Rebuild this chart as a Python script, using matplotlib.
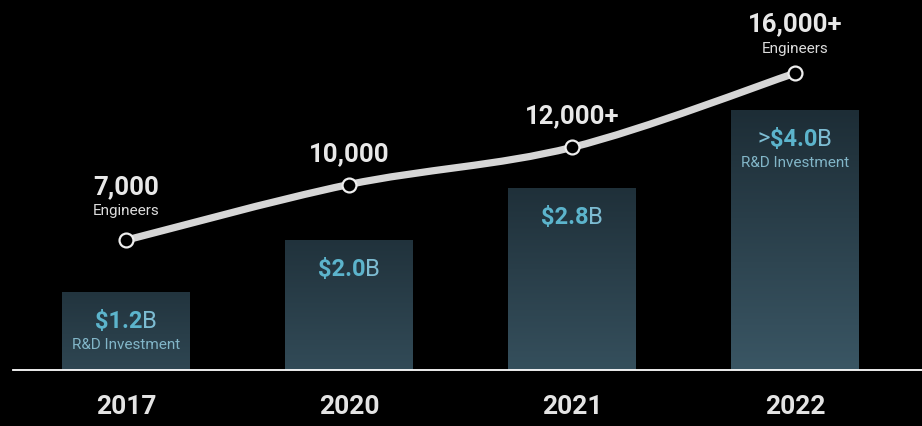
import matplotlib
matplotlib.use("Agg")
import matplotlib.pyplot as plt
import numpy as np
from matplotlib.path import Path
from matplotlib.patches import PathPatch
from matplotlib.colors import LinearSegmentedColormap, to_rgb

plt.rcParams['font.family'] = ['Roboto', 'DejaVu Sans']

years = ["2017", "2020", "2021", "2022"]
rd_spend = [1.2, 2.0, 2.8, 4.0]          # $B
rd_prefix = ["", "", "", ">"]
rd_sub = ["R&D Investment", "", "", "R&D Investment"]
engineers = [7000, 10000, 12000, 16000]
eng_labels = ["7,000", "10,000", "12,000+", "16,000+"]
eng_sub = ["Engineers", "", "", "Engineers"]

fig = plt.figure(figsize=(9.22, 4.27), dpi=100, facecolor="black")
ax = fig.add_axes([13 / 922, 56 / 427, 909 / 922, 371 / 427])
ax.set_facecolor("black")
ax2 = ax.twinx()
for a in (ax, ax2):
    a.set_axis_off()

x = np.arange(len(years))
bar_w = 0.574

# bars with a vertical gradient (dark top -> lighter teal bottom)
bars = ax.bar(x, rd_spend, width=bar_w, color="none", zorder=1)
top_c = np.array(to_rgb("#1d2d36"))
bot_c = np.array(to_rgb("#3a5664"))
hmax = max(rd_spend)
for b, v in zip(bars, rd_spend):
    frac = 0.45 + 0.55 * v / hmax
    bc = top_c + (bot_c - top_c) * frac
    tc = top_c + (bot_c - top_c) * (0.25 * (1 - v / hmax))
    cm = LinearSegmentedColormap.from_list("g", [bc, tc])
    grad = np.linspace(0, 1, 256).reshape(-1, 1)
    im = ax.imshow(grad, cmap=cm, origin="lower", aspect="auto", zorder=1,
                   extent=[b.get_x(), b.get_x() + b.get_width(), 0, v])
    im.set_clip_path(b)

ax.set_xlim(-0.507, 3.57)
ax.set_ylim(0, 5.71)
ax2.set_ylim(0, 20000)
ax.axhline(0, color="white", lw=1.3, clip_on=False, zorder=3)

# smooth engineers line (Catmull-Rom as cubic Bezier)
pts = np.column_stack([x, engineers]).astype(float)
p = np.vstack([pts[0], pts, pts[-1]])
verts = [tuple(pts[0])]
codes = [Path.MOVETO]
for i in range(1, len(p) - 2):
    c1 = p[i] + (p[i + 1] - p[i - 1]) / 6
    c2 = p[i + 1] - (p[i + 2] - p[i]) / 6
    verts += [tuple(c1), tuple(c2), tuple(p[i + 1])]
    codes += [Path.CURVE4] * 3
ax2.add_patch(PathPatch(Path(verts, codes), fill=False, lw=5.2,
                        edgecolor="#d6d6d6", capstyle="round", zorder=4))
ax2.plot(x, engineers, "o", ms=10, mfc="black", mec="#eeeeee", mew=1.6, zorder=5)

# engineer labels
num_off = [54, 31, 32, 50]
sub_off = [30, 0, 0, 25]
for i in range(len(years)):
    ax2.annotate(eng_labels[i], (x[i], engineers[i]), xytext=(0, num_off[i]),
                 textcoords="offset pixels", ha="center", va="center",
                 fontsize=18.5, fontweight="bold", color="#e8e8e8", zorder=6)
    if eng_sub[i]:
        ax2.annotate(eng_sub[i], (x[i], engineers[i]), xytext=(0, sub_off[i]),
                     textcoords="offset pixels", ha="center", va="center",
                     fontsize=11, color="#dcdcdc", zorder=6)

# year labels
for i, yr in enumerate(years):
    ax.annotate(yr, (x[i], 0), xytext=(0, -36), textcoords="offset pixels",
                ha="center", va="center", fontsize=19, fontweight="bold",
                color="#e4e4e4", annotation_clip=False)

# spend labels: prefix (regular) + "$x.x" (bold) + "B" (regular)
blue = "#5cb4cc"
light_blue = "#7dbcd2"
groups = []
for i, v in enumerate(rd_spend):
    parts = []
    if rd_prefix[i]:
        parts.append((rd_prefix[i], "normal", light_blue))
    parts.append((f"${v:.1f}", "bold", blue))
    parts.append(("B", "normal", light_blue))
    texts = []
    first = ax.annotate(parts[0][0], (x[i], v), xytext=(0, -28),
                        textcoords="offset pixels", ha="left", va="center",
                        fontsize=17, fontweight=parts[0][1], color=parts[0][2], zorder=6)
    texts.append(first)
    for s, w, c in parts[1:]:
        t = ax.annotate(s, (1, 0), xycoords=texts[-1], ha="left", va="bottom",
                        fontsize=17, fontweight=w, color=c, zorder=6)
        texts.append(t)
    groups.append(texts)
    if rd_sub[i]:
        ax.annotate(rd_sub[i], (x[i], v), xytext=(0, -52), textcoords="offset pixels",
                    ha="center", va="center", fontsize=11, color="#82b6c8", zorder=6)

fig.canvas.draw()
for texts in groups:
    width = sum(t.get_window_extent().width for t in texts)
    texts[0].xyann = (-width / 2, -28)

fig.savefig("out.png", dpi=100, facecolor="black")
